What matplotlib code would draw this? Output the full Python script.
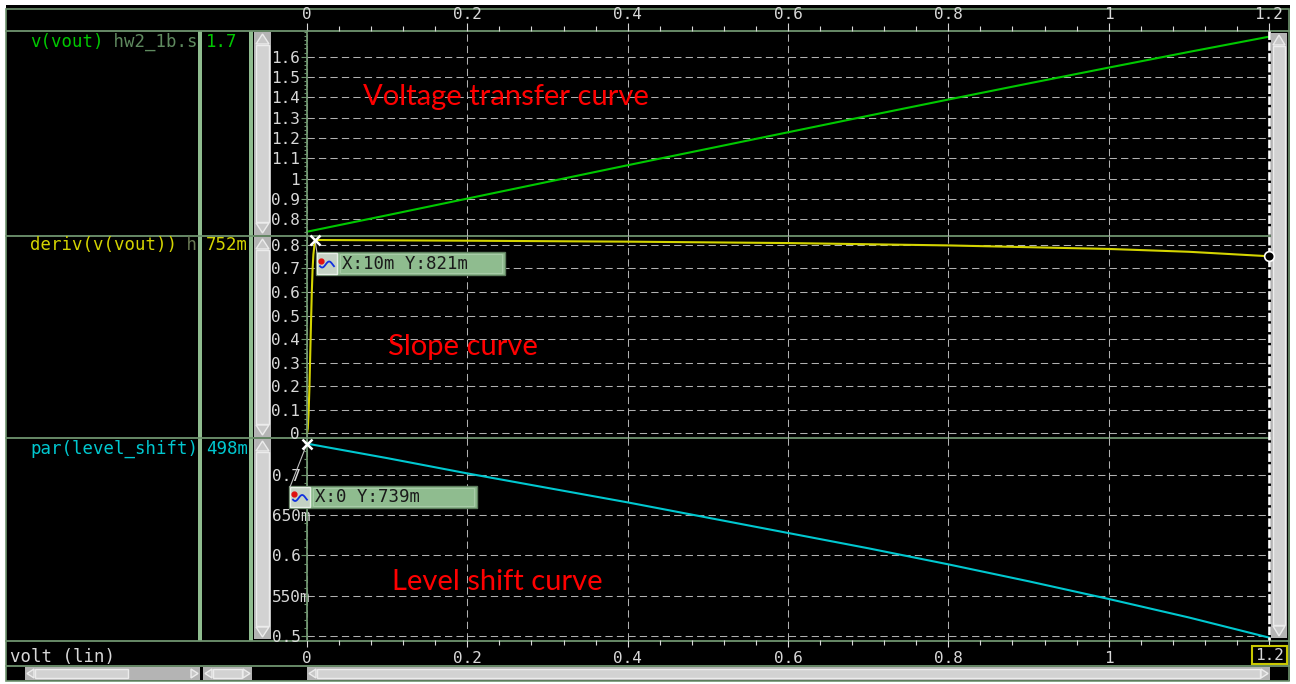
import numpy as np
import matplotlib.pyplot as plt
from matplotlib.patches import Rectangle, Polygon
from matplotlib.ticker import FixedLocator, MultipleLocator
from matplotlib.transforms import ScaledTranslation

# input sweep (volt, lin) and the three traces
vin = [0.0, 0.1, 0.2, 0.3, 0.4, 0.5, 0.6, 0.7, 0.8, 0.9, 1.0, 1.1, 1.2]
vout = [0.739, 0.820, 0.902, 0.984, 1.066, 1.147, 1.228, 1.309, 1.389, 1.468, 1.546, 1.623, 1.698]
level_shift = [0.739, 0.721, 0.702, 0.684, 0.666, 0.647, 0.628, 0.609, 0.589, 0.568, 0.546, 0.523, 0.498]

# slope, sampled finer where it ramps up from 0
vin_d = [0.0, 0.001, 0.002, 0.003, 0.004, 0.005, 0.006, 0.007, 0.008, 0.01,
         0.2, 0.4, 0.6, 0.8, 1.0, 1.1, 1.2]
deriv = [0.0, 0.02, 0.09, 0.19, 0.33, 0.47, 0.60, 0.70, 0.76, 0.821,
         0.818, 0.814, 0.808, 0.798, 0.783, 0.771, 0.752]

x_ticks = [0.0, 0.2, 0.4, 0.6, 0.8, 1.0, 1.2]
x_top_labels = ['0', '0.2', '0.4', '0.6', '0.8', '1', '1.2']
x_bot_labels = ['0', '0.2', '0.4', '0.6', '0.8', '1', '']

vtc_ticks = [0.8, 0.9, 1.0, 1.1, 1.2, 1.3, 1.4, 1.5, 1.6]
vtc_labels = ['0.8', '0.9', '1', '1.1', '1.2', '1.3', '1.4', '1.5', '1.6']
slope_ticks = [0.0, 0.1, 0.2, 0.3, 0.4, 0.5, 0.6, 0.7, 0.8]
slope_labels = ['0', '0.1', '0.2', '0.3', '0.4', '0.5', '0.6', '0.7', '0.8']
shift_ticks = [0.5, 0.55, 0.6, 0.65, 0.7]
shift_labels = ['0.5', '550m', '0.6', '650m', '0.7']

cursor_x = 1.2

W, H = 1296, 684
FRAME = '#6f946f'
SEP = '#8fbc8f'
TXT = '#d8d8d8'
GREEN = '#00c800'
YELLOW = '#d4d400'
CYAN = '#00c8d0'
MONO = 'DejaVu Sans Mono'

plt.rcParams['font.family'] = MONO


def eng(v):
    if v == 0:
        return '0'
    if abs(v) < 1:
        return f'{v * 1000:.3g}m'
    return f'{v:.3g}'


def box(ax, x0, y0, x1, y1, **kw):
    ax.add_patch(Rectangle((x0, y0), x1 - x0, y1 - y0, **kw))


def tri(ax, pts, **kw):
    ax.add_patch(Polygon(pts, closed=True, **kw))


fig = plt.figure(figsize=(W / 100, H / 100), dpi=100, facecolor='white')

# background layer in pixel coordinates
bg = fig.add_axes([0, 0, 1, 1], label='bg', zorder=0)
bg.set_xlim(0, W)
bg.set_ylim(H, 0)
bg.axis('off')
box(bg, 6, 5, 1290, 681, fc='black', ec='none')
box(bg, 6, 9, 1289, 681, fc='none', ec=FRAME, lw=1.2)
for yy, x_end in [(31, 1289), (236, 1270), (438, 1270), (641, 1289), (666, 1289)]:
    bg.plot([6, x_end], [yy, yy], color=FRAME, lw=1.3)
box(bg, 198, 31, 202, 641, fc=SEP, ec='none')
box(bg, 249, 31, 253, 641, fc=SEP, ec='none')

# trace names and cursor values on the left
rows = [
    (42, [('v(vout)', GREEN), (' hw2_1b.s', '#5f8a5f')], eng(vout[-1]), GREEN),
    (245, [('deriv(v(vout))', YELLOW), (' h', '#6a7a55')], eng(deriv[-1]), YELLOW),
    (449, [('par(level_shift)', CYAN)], eng(level_shift[-1]), CYAN),
]
adv = 12.5 * 100 / 72 * 0.602
for yy, parts, val, col in rows:
    xx = 30
    for s, c in parts:
        bg.text(xx, yy, s, color=c, fontsize=12.5, va='center', ha='left')
        xx += len(s) * adv
    bg.text(206, yy, val, color=col, fontsize=12.5, va='center', ha='left')
bg.text(10, 657, 'volt (lin)', color=TXT, fontsize=12.5, va='center', ha='left')

# the three stacked panels
L, R = 307, 1269
panels = [(31, 236), (236, 438), (438, 640)]


def make_panel(top, bot, ylim, ticks, labels, minor):
    ax = fig.add_axes([L / W, 1 - bot / H, (R - L) / W, (bot - top) / H],
                      label=f'p{top}', zorder=1)
    ax.set_facecolor('none')
    ax.set_xlim(0, 1.2)
    ax.set_ylim(*ylim)
    for s in ['top', 'right', 'bottom']:
        ax.spines[s].set_visible(False)
    ax.spines['left'].set_color(FRAME)
    ax.spines['left'].set_linewidth(1.3)
    ax.yaxis.set_major_locator(FixedLocator(ticks))
    ax.set_yticklabels(labels)
    ax.yaxis.set_minor_locator(MultipleLocator(minor))
    ax.tick_params(axis='y', which='major', direction='out', length=4.5, width=0.8,
                   color=FRAME, labelcolor=TXT, labelsize=11.5, pad=0.5)
    ax.tick_params(axis='y', which='minor', direction='out', length=2.3, width=0.8,
                   color=FRAME)
    ax.xaxis.set_major_locator(FixedLocator(x_ticks))
    ax.xaxis.set_minor_locator(MultipleLocator(0.04))
    ax.tick_params(axis='x', which='both', bottom=False, top=False,
                   labelbottom=False, labeltop=False)
    ax.grid(True, which='major', color='#b0b0b0', lw=0.75, ls=(0, (7, 4)))
    return ax


ax1 = make_panel(*panels[0], (0.718, 1.726), vtc_ticks, vtc_labels, 0.02)
ax2 = make_panel(*panels[1], (-0.020, 0.838), slope_ticks, slope_labels, 0.02)
ax3 = make_panel(*panels[2], (0.495, 0.746), shift_ticks, shift_labels, 0.01)

# the level-shift labels start at the scroll bar edge, so "550m" runs into the axis
shift_left = ScaledTranslation(-28.5 / 100, 0, fig.dpi_scale_trans)
for lbl in ax3.get_yticklabels():
    lbl.set_ha('left')
    lbl.set_transform(lbl.get_transform() + shift_left)

ax1.tick_params(axis='x', which='both', top=True, labeltop=True, direction='out',
                color=TXT, labelcolor=TXT, labelsize=11.5, width=0.8)
ax1.tick_params(axis='x', which='major', length=5.5, pad=1)
ax1.tick_params(axis='x', which='minor', length=3.5)
ax1.set_xticklabels(x_top_labels)

ax3.tick_params(axis='x', which='both', bottom=True, labelbottom=True, direction='out',
                color=TXT, labelcolor=TXT, labelsize=11.5, width=0.8)
ax3.tick_params(axis='x', which='major', length=5, pad=3)
ax3.tick_params(axis='x', which='minor', length=3.5)
ax3.set_xticklabels(x_bot_labels)

ax1.plot(vin, vout, color=GREEN, lw=1.5, clip_on=False)
ax2.plot(vin_d, deriv, color=YELLOW, lw=1.5, clip_on=False)
ax3.plot(vin, level_shift, color=CYAN, lw=1.5, clip_on=False)

ax1.text(0.07, 1.40, 'Voltage transfer curve', color='#ff0000', fontsize=21,
         family='Lato', va='center', ha='left')
ax2.text(0.101, 0.367, 'Slope curve', color='#ff0000', fontsize=21,
         family='Lato', va='center', ha='left')
ax3.text(0.106, 0.567, 'Level shift curve', color='#ff0000', fontsize=21,
         family='Lato', va='center', ha='left')

# overlay layer: scroll bars, cursors and marker boxes
ov = fig.add_axes([0, 0, 1, 1], label='ov', zorder=3)
ov.set_facecolor('none')
ov.set_xlim(0, W)
ov.set_ylim(H, 0)
ov.axis('off')


def to_px(ax, x, y):
    X, Y = ax.transData.transform((x, y))
    return X, H - Y


def vscroll(x0, x1, top, bot):
    box(ov, x0, top, x1, bot, fc='#b4b4b4', ec='none')
    box(ov, x0 + 2, top + 13, x1 - 2, bot - 13, fc='#d2d2d2', ec='#ececec', lw=1)
    cx = (x0 + x1) / 2
    tri(ov, [(cx, top + 2), (x0 + 2, top + 12), (x1 - 2, top + 12)],
        fc='#c8c8c8', ec='#ececec', lw=1)
    tri(ov, [(cx, bot - 2), (x0 + 2, bot - 12), (x1 - 2, bot - 12)],
        fc='#c8c8c8', ec='#ececec', lw=1)


def hscroll(x0, x1, t0, t1, top=667, bot=680):
    box(ov, x0, top, x1, bot, fc='#b4b4b4', ec='none')
    box(ov, t0, top + 2, t1, bot - 2, fc='#d2d2d2', ec='#ececec', lw=1)
    cy = (top + bot) / 2
    tri(ov, [(x0 + 2, cy), (x0 + 9, top + 2), (x0 + 9, bot - 2)],
        fc='#c8c8c8', ec='#ececec', lw=1)
    tri(ov, [(x1 - 2, cy), (x1 - 9, top + 2), (x1 - 9, bot - 2)],
        fc='#c8c8c8', ec='#ececec', lw=1)


for top, bot in panels:
    vscroll(254, 271, top + 1, bot - 1)
vscroll(1271, 1287, 33, 638)
hscroll(25, 200, 35, 128)
hscroll(203, 252, 213, 242)
hscroll(307, 1270, 317, 1260)

# cursor line at the end of the sweep
cx, _ = to_px(ax1, cursor_x, 1.0)
ov.plot([cx, cx], [31, 640], color='white', lw=1.9, ls=(0, (3.2, 0.9)))
ccx, ccy = to_px(ax2, cursor_x, deriv[-1])
ov.plot(ccx, ccy, 'o', ms=7, mfc='black', mec='white', mew=1.2)
box(ov, 1252, 646, 1287, 664, fc='black', ec='#c8c800', lw=1.5)
ov.text(1269.5, 655.5, eng(cursor_x), color=TXT, fontsize=11.5, ha='center', va='center')


def marker_box(ax, x, y, bx0, by0, bx1, by1):
    mx, my = to_px(ax, x, y)
    ov.plot([mx, bx0 + 1], [my, by0 + 1], color='#c0c0c0', lw=0.8)
    ov.plot(mx, my, 'x', ms=7, mec='white', mew=1.8)
    box(ov, bx0, by0, bx1, by1, fc='#8fbc8f', ec='#5e7e5e', lw=1)
    box(ov, bx0 + 1, by0 + 1, bx0 + 21, by1 - 1, fc='#c4d2c4', ec='#e8f0e8', lw=1)
    box(ov, bx0 + 24, by0 + 2, bx1 - 3, by1 - 2, fc='none', ec='#a8cca8', lw=0.8)
    t = np.linspace(0, 1, 30)
    ov.plot(bx0 + 4 + 14 * t, (by0 + by1) / 2 + 1 + 3 * np.sin(2 * np.pi * t + 0.6),
            color='#1030e0', lw=1.3)
    ov.plot(bx0 + 5, (by0 + by1) / 2 - 3, 'o', ms=3.5, color='#e01010')
    ov.text(bx0 + 26, (by0 + by1) / 2 + 0.5, f'X:{eng(x)} Y:{eng(y)}', color='#1a1a1a',
            fontsize=12.5, ha='left', va='center')


marker_box(ax2, vin_d[9], deriv[9], 316, 252, 505, 275)
marker_box(ax3, vin[0], level_shift[0], 289, 486, 477, 508)

fig.savefig('out.png', dpi=100, facecolor='white')
